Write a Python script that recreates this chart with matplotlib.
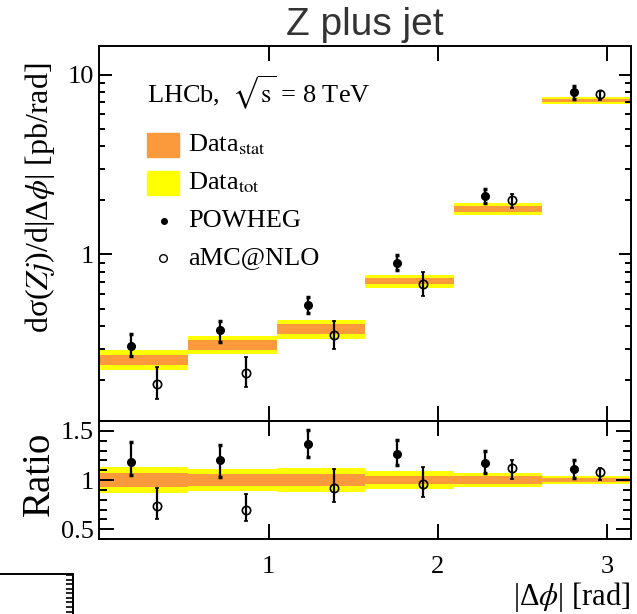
import numpy as np
import matplotlib
matplotlib.use("Agg")
import matplotlib.pyplot as plt
from matplotlib.patches import Rectangle
from matplotlib.ticker import MultipleLocator, NullFormatter, LogLocator

plt.rcParams['font.family'] = ['Liberation Serif', 'DejaVu Serif']
plt.rcParams['mathtext.fontset'] = 'stix'

# |dphi| binning: six equal bins between 0 and pi
bin_edges = [0, np.pi / 6, np.pi / 3, np.pi / 2, 2 * np.pi / 3, 5 * np.pi / 6, np.pi]

# measured cross-section [pb/rad] with relative stat and total uncertainties
data = [0.260, 0.315, 0.385, 0.711, 1.79, 7.20]
stat_rel = [0.068, 0.064, 0.060, 0.042, 0.037, 0.018]
tot_rel = [0.128, 0.115, 0.118, 0.087, 0.074, 0.043]

# predictions with asymmetric uncertainties
powheg = [0.308, 0.379, 0.526, 0.900, 2.10, 8.00]
powheg_up = [0.052, 0.048, 0.056, 0.098, 0.22, 0.66]
powheg_dn = [0.034, 0.053, 0.052, 0.080, 0.18, 0.66]

amc = [0.191, 0.220, 0.355, 0.685, 2.01, 7.76]
amc_up = [0.047, 0.050, 0.073, 0.118, 0.145, 0.34]
amc_dn = [0.033, 0.036, 0.056, 0.098, 0.20, 0.55]

main_yticks = [1, 10]
main_yticklabels = ['1', '10']
ratio_yticks = [0.5, 1, 1.5]
ratio_yticklabels = ['0.5', '1', '1.5']
xticks = [1, 2, 3]
xticklabels = ['1', '2', '3']

ORANGE = '#fa9a3c'
YELLOW = '#ffff00'

edges = np.array(bin_edges)
centers = 0.5 * (edges[1:] + edges[:-1])
widths = np.diff(edges)
data = np.array(data)
stat_rel = np.array(stat_rel)
tot_rel = np.array(tot_rel)
powheg = np.array(powheg)
amc = np.array(amc)

x_pow = centers - 0.075
x_amc = centers + 0.08

fig = plt.figure(figsize=(6.37, 6.14), dpi=100)
ax = fig.add_axes([0.156, 0.3143, 0.8346, 0.6107])
rax = fig.add_axes([0.156, 0.1221, 0.8346, 0.1922], sharex=ax)

err_kw = dict(color='black', elinewidth=1.6, capsize=1.5, capthick=2.5, linestyle='none')

# main panel
ax.set_yscale('log')
ax.bar(centers, 2 * data * tot_rel, bottom=data * (1 - tot_rel), width=widths,
       color=YELLOW, linewidth=0)
ax.bar(centers, 2 * data * stat_rel, bottom=data * (1 - stat_rel), width=widths,
       color=ORANGE, linewidth=0)
ax.errorbar(x_pow, powheg, yerr=[powheg_dn, powheg_up], fmt='o', ms=5.5, **err_kw)
ax.errorbar(x_amc, amc, yerr=[amc_dn, amc_up], fmt='o', ms=6, mfc='none',
            mec='black', mew=1.2, **err_kw)
ax.set_ylim(0.1186, 14.4)
ax.set_xlim(0, np.pi)
ax.set_yticks(main_yticks)
ax.set_yticklabels(main_yticklabels)
ax.yaxis.set_minor_locator(LogLocator(base=10, subs=np.arange(2, 10)))
ax.yaxis.set_minor_formatter(NullFormatter())

# legend drawn by hand, ROOT style
tr = ax.transAxes
ax.text(0.0897, 0.876, r'LHCb,  $\sqrt{\mathrm{s}}$ = 8 TeV', transform=tr, va='center', fontsize=19)
ax.add_patch(Rectangle((0.0897, 0.704), 0.0602, 0.064, transform=tr, color=ORANGE, clip_on=False))
ax.add_patch(Rectangle((0.0897, 0.603), 0.0602, 0.064, transform=tr, color=YELLOW, clip_on=False))
ax.text(0.167, 0.736, r'Data$_{\mathrm{stat}}$', transform=tr, va='center', fontsize=19)
ax.text(0.167, 0.635, r'Data$_{\mathrm{tot}}$', transform=tr, va='center', fontsize=19)
ax.plot([0.1217], [0.533], 'o', color='black', ms=4, transform=tr)
ax.plot([0.1200], [0.435], 'o', mfc='white', mec='black', mew=1.0, ms=5.5, transform=tr)
ax.text(0.167, 0.533, 'POWHEG', transform=tr, va='center', fontsize=19)
ax.text(0.167, 0.435, 'aMC@NLO', transform=tr, va='center', fontsize=19)

# ratio panel
rax.bar(centers, 2 * tot_rel, bottom=1 - tot_rel, width=widths, color=YELLOW, linewidth=0)
rax.bar(centers, 2 * stat_rel, bottom=1 - stat_rel, width=widths, color=ORANGE, linewidth=0)
rax.errorbar(x_pow, powheg / data, yerr=[np.array(powheg_dn) / data, np.array(powheg_up) / data],
             fmt='o', ms=5.5, **err_kw)
rax.errorbar(x_amc, amc / data, yerr=[np.array(amc_dn) / data, np.array(amc_up) / data],
             fmt='o', ms=6, mfc='none', mec='black', mew=1.2, **err_kw)
rax.set_ylim(0.4, 1.6)
rax.set_yticks(ratio_yticks)
rax.set_yticklabels(ratio_yticklabels)
rax.yaxis.set_minor_locator(MultipleLocator(0.1))
rax.set_xticks(xticks)
rax.set_xticklabels(xticklabels)
rax.set_xlim(0, np.pi)

for a in (ax, rax):
    a.tick_params(which='both', direction='in', top=True, right=True, width=1.4, labelsize=19)
    for s in a.spines.values():
        s.set_linewidth(1.4)
ax.tick_params(axis='x', which='major', length=10.5, labelbottom=False)
ax.tick_params(axis='y', which='major', length=9, pad=4)
ax.tick_params(axis='y', which='minor', length=4.5)
rax.tick_params(axis='x', which='major', length=10.5, pad=12)
rax.tick_params(axis='x', which='minor', bottom=False, top=False)
rax.tick_params(axis='y', which='major', length=11, pad=4)
rax.tick_params(axis='y', which='minor', length=5.5)

fig.text(0.063, 0.6775, r'dσ($Zj$)/d|Δ$\phi$| [pb/rad]', rotation=90, ha='center', va='center', fontsize=23)
fig.text(0.062, 0.228, 'Ratio', rotation=90, ha='center', va='center', fontsize=28)
fig.text(0.9906, 0.0, r'|Δ$\phi$| [rad]', ha='right', va='bottom', fontsize=22)
fig.text(0.573, 0.943, 'Z plus jet', family='Liberation Sans', fontsize=28, color='#333333',
         ha='center', va='baseline')

# corner of a neighbouring panel visible in the bottom-left
cax = fig.add_axes([-0.05, -0.1, 0.1646, 0.1651])
cax.set_xlim(0, 1)
cax.set_ylim(0, 1)
cax.spines['left'].set_visible(False)
cax.spines['bottom'].set_visible(False)
cax.spines['top'].set_linewidth(1.4)
cax.spines['right'].set_linewidth(1.4)
cax.xaxis.set_visible(False)
cax.yaxis.tick_right()
cax.yaxis.set_major_locator(MultipleLocator(0.045))
cax.tick_params(axis='y', direction='in', length=5, width=1.2, labelright=False)

fig.savefig('out.png', dpi=100)
